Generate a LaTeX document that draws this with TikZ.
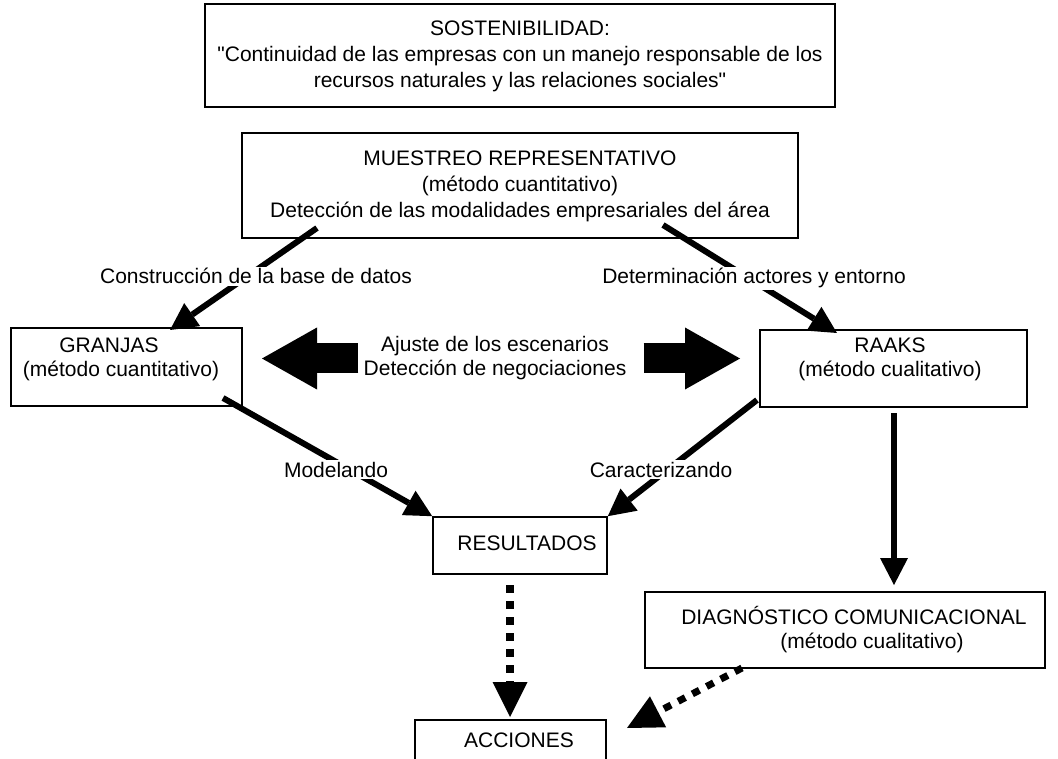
\documentclass[tikz,border=0pt]{standalone}
\usepackage{fontspec}
\setmainfont{Liberation Sans}[Ligatures=TeXOff]
\usetikzlibrary{arrows.meta}
\begin{document}
\begin{tikzpicture}[x=1pt,y=-1pt,
  txt/.style={font=\fontsize{21}{24}\selectfont, inner sep=0pt, align=center},
  box/.style={draw, line width=1.6pt, inner sep=0pt},
  lbl/.style={font=\fontsize{21}{24}\selectfont, fill=white, inner xsep=1pt, inner ysep=2pt, anchor=base},
  conn/.style={line width=6pt, -{Triangle[length=27pt,width=28pt,line width=0pt]}},
  block/.style={line width=30pt, -{Triangle[length=55pt,width=62pt,line width=0pt]}},
  dots/.style={line width=8pt, dash pattern=on 8pt off 8pt, -{Triangle[length=35pt,width=35pt,line width=0pt]}}
]
\fill[white] (0,0) rectangle (1058,759);
\useasboundingbox (0,0) rectangle (1058,759);

% boxes
\node[box, minimum width=630pt, minimum height=103pt] (sost) at (520,55.5) {};
\node[box, minimum width=556pt, minimum height=105pt] (muestreo) at (520,185.5) {};
\node[box, minimum width=231pt, minimum height=78pt] (granjas) at (126.5,367) {};
\node[box, minimum width=267pt, minimum height=77pt] (raaks) at (893.5,368.5) {};
\node[box, minimum width=174pt, minimum height=57pt] (resultados) at (520,545.5) {};
\node[box, minimum width=400pt, minimum height=76pt] (diag) at (845,630) {};
\node[box, minimum width=191pt, minimum height=57pt] (acciones) at (510.5,748.5) {};

% texts in boxes
\node[txt, font=\fontsize{21}{26}\selectfont] (sostT) at (520,56.7) {SOSTENIBILIDAD:\\"Continuidad de las empresas con un manejo responsable de los\\recursos naturales y las relaciones sociales"};
\node[txt, font=\fontsize{21}{26}\selectfont] (muestreoT) at (520,186) {MUESTREO REPRESENTATIVO\\(método cuantitativo)\\Detección de las modalidades empresariales del área};
\node[txt] (granjasT) at (121,359.7) {GRANJAS\hspace*{24pt}\\(método cuantitativo)};
\node[txt] (raaksT) at (890,359.7) {RAAKS\\(método cualitativo)};
\node[txt, anchor=base] (resultadosT) at (527,550) {RESULTADOS};
\node[txt] (diagT) at (854,629.5) {DIAGNÓSTICO COMUNICACIONAL\\\hspace*{36pt}(método cualitativo)};
\node[txt, anchor=base] (accionesT) at (519,747) {ACCIONES};
\node[txt] (ajuste) at (495,358.5) {Ajuste de los escenarios\\Detección de negociaciones};

% connector end points
\coordinate (cA) at (317,228);
\coordinate (cB) at (170,330);
\coordinate (dA) at (663,225);
\coordinate (dB) at (837,333);
\coordinate (mA) at (223,398);
\coordinate (kA) at (757,400);
\coordinate (rA) at (894,413);
\coordinate (rB) at (894,585);
\coordinate (sA) at (510,585);
\coordinate (sB) at (510,717);
\coordinate (gA) at (742,668);
\coordinate (gB) at (627,728);
\coordinate (tipL) at (262,358.5);
\coordinate (tipR) at (740,358.5);

% connectors
\draw[conn] (cA) -- (cB);
\draw[conn] (dA) -- (dB);
\draw[conn] (mA) -- (resultados.north west);
\draw[conn] (kA) -- (resultados.north east);
\draw[conn] (rA) -- (rB);
\draw[block] ([xshift=-5pt]ajuste.west) -- (tipL);
\draw[block] ([xshift=17pt]ajuste.east) -- (tipR);
\draw[dots] (sA) -- (sB);
\draw[dots, line width=7pt] (gA) -- (gB);

% connector labels
\node[lbl] (lc) at (256,284) {Construcción de la base de datos};
\node[lbl] (ld) at (754,284) {Determinación actores y entorno};
\node[lbl] (lm) at (336,477) {Modelando};
\node[lbl] (lk) at (661,477) {Caracterizando};
\end{tikzpicture}
\end{document}
